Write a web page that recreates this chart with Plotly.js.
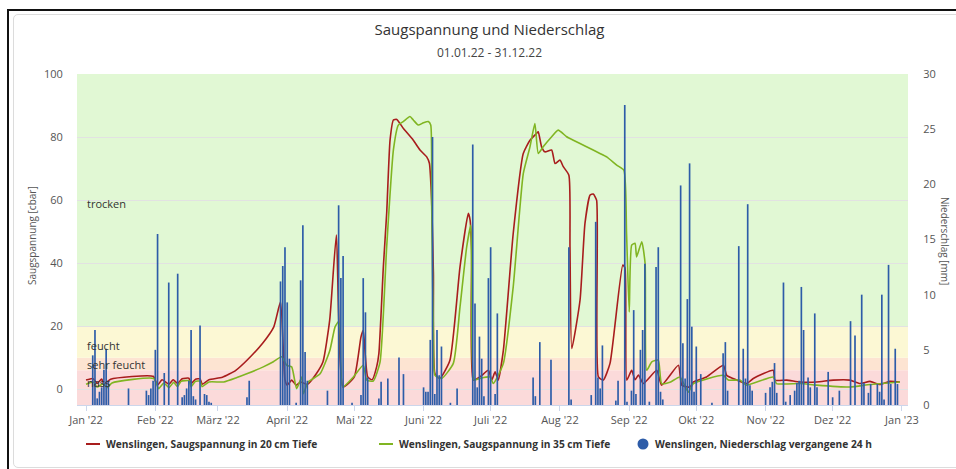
<!DOCTYPE html>
<html><head><meta charset="utf-8">
<script src="https://cdn.plot.ly/plotly-3.0.1.min.js"></script>
<style>
html,body{margin:0;padding:0;background:#fff;width:956px;height:469px;overflow:hidden;}
#outer{position:absolute;left:7px;top:9px;width:960px;height:470px;border-top:2px solid #111;border-left:2px solid #111;}
#inner{position:absolute;left:13px;top:14px;width:960px;height:452px;border:1px solid #dcdcdc;border-radius:5px;}
#chart{position:absolute;left:0;top:0;width:956px;height:469px;}
</style></head><body>
<div id="outer"></div><div id="inner"></div><div id="chart"></div>
<script>
// ---- data (day 0 = 01.01.2022) ----
const tickDates = ['2022-01-01','2022-02-01','2022-03-01','2022-04-01','2022-05-01','2022-06-01','2022-07-01','2022-08-01','2022-09-01','2022-10-01','2022-11-01','2022-12-01','2023-01-01'];
const tickLabels = ["Jan '22","Feb '22","März '22","April '22","Mai '22","Juni '22","Juli '22","Aug '22","Sep '22","Okt '22","Nov '22","Dez '22","Jan '23"];

const red20Days = [0,3,5,7,8,11,30,32,34,37,39,41,43,46,47,49,51,52,55,61,67,72,79,84,87,89,90,92,94,96,99,103,106,109,112,115,120,123,124,126,128,130,131,133,134.5,136,137.5,139,142,146.4,149.4,152.4,153.6,154.6,155.4,156.1,158.3,162.8,167.3,171,171.8,172.5,173.2,176.2,180,181.5,183,184.4,186.7,191.1,195.6,198.6,201.6,202.3,203.8,205.3,208.3,209.8,212,213.5,216,216.5,217.3,221,223.2,225.5,226.9,228.4,229.2,231.4,234.4,240.1,241.1,241.9,244.1,245.6,247.1,249.3,255.3,257.5,265,266.5,270.2,271.7,277.6,285.1,286.6,289.5,295.5,298.5,307.4,308.2,313.4,319.4,326.8,334.3,341.7,346.2,350.7,355.2,359.6,364.1];
const red20Vals = [2.9,3.4,1.9,3.2,1.6,3.2,4.1,1.3,3.0,1.6,3.0,1.8,3.3,3.5,1.8,3.2,3.3,1.6,3.0,3.8,6.0,9.2,14.6,19.8,27.7,3.0,1.3,2.9,1.3,2.3,1.5,4.9,8.7,21.9,48.9,0.7,3.9,16.6,18.7,3.9,3.0,7.1,11.3,38.8,55.9,79,85.4,85.6,82.7,79,75.9,73.7,71.7,60,36.7,4.9,3.4,9.2,38.8,55.8,53.7,44.1,2.9,3.9,6,2.9,5.5,2.9,12.4,49.4,74.8,79,81.2,81.7,76.9,75.3,75.9,71.6,72.7,70.6,67.9,45.2,12.9,28.3,52.6,61.6,61.9,60,3.9,2.9,8.2,39.4,38.5,2.9,6,3,4.5,1.8,6,1.3,7.6,1.3,0.7,2.3,3.9,7.6,4.4,3.4,1.8,3.4,6,2.9,2.9,2.3,2.3,2.9,2.9,1.8,2.5,1.5,2.5,2.3];

const green35Days = [0,3.4,4.9,7.9,9.4,11.6,30.3,32.5,34.8,37.1,39.2,40.9,42.5,46.1,47,48.8,51,51.9,55,61.6,67.5,71.9,79.3,83.8,87.5,89.8,92,94.2,96.5,97.2,99.4,104.7,109.1,111.4,112.9,113.6,114.8,119.6,124,125.6,128.5,131.5,134.5,137.5,139.7,141.9,144.9,146.4,148.6,150.9,153.1,154.2,154.6,155.4,156.1,159.1,164.3,167.3,170.3,172.1,172.5,173.6,176.2,180.7,182.2,186.7,191.1,195.6,198.6,200.8,202.3,204.5,208.3,211.2,215,218,223.9,229.9,232.9,237.4,240.6,241.8,243,244.1,245.6,246.3,248.6,250.1,250.8,253.1,256,257.5,261.2,265.7,269.4,271.7,285.1,287.3,292.5,295.5,307.4,308.9,319.4,326.8,341.7,350.7,364.1];
const green35Vals = [1.6,2.3,0.7,1.8,0.5,2.0,3.4,0.2,2.0,0.5,2.2,0.8,2.5,2.7,0.8,2.4,2.6,0.8,2.3,2.3,3.7,4.9,7.1,8.7,10.3,7.6,7.1,0.2,3.9,-1.4,2.3,4.9,12.4,19.8,21.4,19.8,0.7,3.9,7.6,2.9,2.6,8.5,45.2,75.9,83.8,84.9,86.5,85.4,83.8,84.5,84.9,83.8,60,17.7,4.4,3.4,8.2,26.1,45.2,52,38.8,2.9,3.4,3.9,1.8,8.2,32.5,68.4,76.9,84.3,74.8,76.9,80.1,82.2,80.1,79,76.9,74.8,73.7,71.1,69.5,49.4,24.5,45.7,46.3,42,46.8,39.9,6,8.7,9.2,1.8,2.2,3.9,-0.9,1.8,4.4,2.9,2.9,1.3,3.9,1.8,1.8,1.3,0.7,1.5,2.3];

const rainDays = [3,4,5,6,7,8,9,10,19,27,28,29,30,31,32,35,37,41,43,44,45,46,47,48,49,51,53,54,55,56,72,73,87,88,89,90,91,94,96,97,98,99,108,113,114,115,119,123,124,125,126,131,132,135,140,142,151,152,153,154,155,156,157,158,159,163,166,173,174,175,176,177,178,180,181,183,184,200,201,203,208,216,217,226,228,229,230,231,237,238,241,242,244,245,246,248,249,250,252,255,256,257,258,266,267,268,269,270,271,272,273,275,280,285,286,287,292,294,295,296,297,298,304,306,307,308,309,312,313,315,317,318,319,320,321,323,324,326,327,332,334,337,342,344,347,348,350,351,354,355,356,357,359,360,362,363];
const rainMm = [4.5,6.8,0.6,1.2,1.6,3.2,5.1,2.2,1.5,1.3,0.9,1.5,2.2,5,15.5,2.9,11.1,11.9,0.7,0.9,1.5,2.2,6.8,0.8,0.5,7.2,1,0.9,0.3,0.2,0.7,2.2,11.2,12.6,14.3,9.3,4.2,0.2,11.3,16.3,4.8,2.2,1.3,18.1,11.5,13.5,0.2,0.9,11.5,8.4,2.5,0.6,2.1,2.4,4.3,2.8,1.6,1.2,1.2,5.9,24.3,1,6.8,2.7,5.3,0.2,1.5,23.6,9.2,1.6,6.2,4.2,0.8,11.5,14.3,1,8.3,2.5,0.8,5.7,4.1,14.3,0.5,0.9,16.6,2.5,1.5,5.4,0.4,2.2,27.2,0.3,1.3,8.6,1.0,5,6.8,12.8,0.3,12.5,14.3,1.2,0.5,19.9,5.6,2.4,9.6,21.9,7.1,1.2,5.3,2.8,0.2,4.7,5.7,1.3,14.4,5.1,2.4,18.2,1.8,1.3,1.1,1.6,2.1,3.8,1.1,11.1,0.3,0.9,1.3,2.0,2.2,10.7,6.8,2.5,1.6,8.3,1.6,3,0.7,1.3,7.6,6.3,10,2,1.1,1.9,1.9,1.2,10,0.5,12.7,1.9,5.1,1.9];

const bandEdges = [-5, 6, 10, 20, 100];
const bandColors = ['#fbdada', '#fde4d2', '#fcf8d4', '#e1f8d4'];
const bandLabels = ['nass', 'sehr feucht', 'feucht', 'trocken'];

const seriesNames = ['Wenslingen, Saugspannung in 20 cm Tiefe', 'Wenslingen, Saugspannung in 35 cm Tiefe', 'Wenslingen, Niederschlag vergangene 24 h'];
const colRed = '#a81d1d', colGreen = '#80b522', colBlue = '#2d5ca8';

// ---- helpers ----
const DAY = 86400000, T0 = Date.UTC(2022, 0, 1);
function toDate(d) { return new Date(T0 + d * DAY).toISOString().slice(0, 19).replace('T', ' '); }
const PL = 77, PR = 908, PT = 74, PB = 405;
function px(x) { return (x - PL) / (PR - PL); }
function py(y) { return (PB - y) / (PB - PT); }

const FONT = 'Open Sans, DejaVu Sans, sans-serif';

const traces = [
  { type: 'scatter', mode: 'lines', x: red20Days.map(toDate), y: red20Vals, name: seriesNames[0],
    line: { color: colRed, width: 1.6, shape: 'spline', smoothing: 0.5 }, hoverinfo: 'skip' },
  { type: 'scatter', mode: 'lines', x: green35Days.map(toDate), y: green35Vals, name: seriesNames[1],
    line: { color: colGreen, width: 1.6, shape: 'spline', smoothing: 0.5 }, hoverinfo: 'skip' },
  { type: 'bar', x: rainDays.map(toDate), y: rainMm, yaxis: 'y2', name: seriesNames[2],
    width: DAY * 0.75, marker: { color: colBlue, line: { width: 0 } }, hoverinfo: 'skip' }
];

const shapes = [];
for (let i = 0; i < bandColors.length; i++) {
  shapes.push({ type: 'rect', xref: 'paper', yref: 'y', x0: 0, x1: 1, y0: bandEdges[i], y1: bandEdges[i + 1],
    fillcolor: bandColors[i], line: { width: 0 }, layer: 'below' });
}
// legend symbols
shapes.push({ type: 'line', xref: 'paper', yref: 'paper', x0: px(86), x1: px(100), y0: py(444), y1: py(444), line: { color: colRed, width: 2 } });
shapes.push({ type: 'line', xref: 'paper', yref: 'paper', x0: px(379), x1: px(393), y0: py(444), y1: py(444), line: { color: colGreen, width: 2 } });
shapes.push({ type: 'circle', xref: 'paper', yref: 'paper', x0: px(637.5), x1: px(648.5), y0: py(449.5), y1: py(438.5), fillcolor: colBlue, line: { width: 0 } });

const bandLabelY = [382, 364, 345, 204];
const annotations = [];
for (let i = 0; i < bandLabels.length; i++) {
  annotations.push({ text: bandLabels[i], xref: 'paper', yref: 'paper', x: px(85), y: py(bandLabelY[i]),
    xanchor: 'left', yanchor: 'middle', showarrow: false, font: { family: FONT, size: 11, color: '#333' } });
}
annotations.push({ text: '01.01.22 - 31.12.22', xref: 'paper', yref: 'paper', x: px(489.5), y: py(53),
  xanchor: 'center', yanchor: 'middle', showarrow: false, font: { family: FONT, size: 12, color: '#444' } });
annotations.push({ text: 'Saugspannung [cbar]', xref: 'paper', yref: 'paper', x: px(32), y: py(236),
  xanchor: 'center', yanchor: 'middle', textangle: -90, showarrow: false, font: { family: FONT, size: 10, color: '#555' } });
annotations.push({ text: 'Niederschlag [mm]', xref: 'paper', yref: 'paper', x: px(945), y: py(241),
  xanchor: 'center', yanchor: 'middle', textangle: 90, showarrow: false, font: { family: FONT, size: 10, color: '#555' } });
const legendX = [104, 397, 653];
for (let i = 0; i < 3; i++) {
  annotations.push({ text: seriesNames[i], xref: 'paper', yref: 'paper', x: px(legendX[i]), y: py(444),
    xanchor: 'left', yanchor: 'middle', showarrow: false, font: { family: FONT, size: 10.2, color: '#333', weight: 'bold' } });
}

const layout = {
  width: 956, height: 469,
  margin: { l: 77, r: 48, t: 74, b: 64 },
  paper_bgcolor: 'rgba(0,0,0,0)', plot_bgcolor: 'rgba(0,0,0,0)',
  font: { family: FONT, size: 11, color: '#555' },
  showlegend: false, hovermode: false,
  title: { text: 'Saugspannung und Niederschlag', x: 489.5 / 956, xref: 'container', xanchor: 'center',
    y: 1 - 30 / 469, yref: 'container', yanchor: 'middle', font: { family: FONT, size: 15, color: '#333' } },
  xaxis: { type: 'date', range: ['2021-12-27 23:00', '2023-01-03 17:00'], tickvals: tickDates, ticktext: tickLabels,
    ticks: 'outside', ticklen: 5, tickcolor: '#ccd6eb', showline: true, linecolor: '#ccd6eb', showgrid: false,
    zeroline: false, tickfont: { family: FONT, size: 11, color: '#555' }, fixedrange: true },
  yaxis: { range: [-5, 100], tickvals: [0, 20, 40, 60, 80, 100], gridcolor: '#e2e2e2', gridwidth: 1, zeroline: false,
    ticks: 'outside', ticklen: 11, tickcolor: 'rgba(0,0,0,0)', showline: false, tickfont: { family: FONT, size: 11, color: '#555' }, fixedrange: true },
  yaxis2: { overlaying: 'y', side: 'right', range: [0, 30], tickvals: [0, 5, 10, 15, 20, 25, 30], showgrid: false, zeroline: false,
    ticks: 'outside', ticklen: 12, tickcolor: 'rgba(0,0,0,0)', showline: false, tickfont: { family: FONT, size: 11, color: '#555' }, fixedrange: true },
  shapes: shapes, annotations: annotations
};

Plotly.newPlot('chart', traces, layout, { displayModeBar: false, staticPlot: true });
</script>
</body></html>
